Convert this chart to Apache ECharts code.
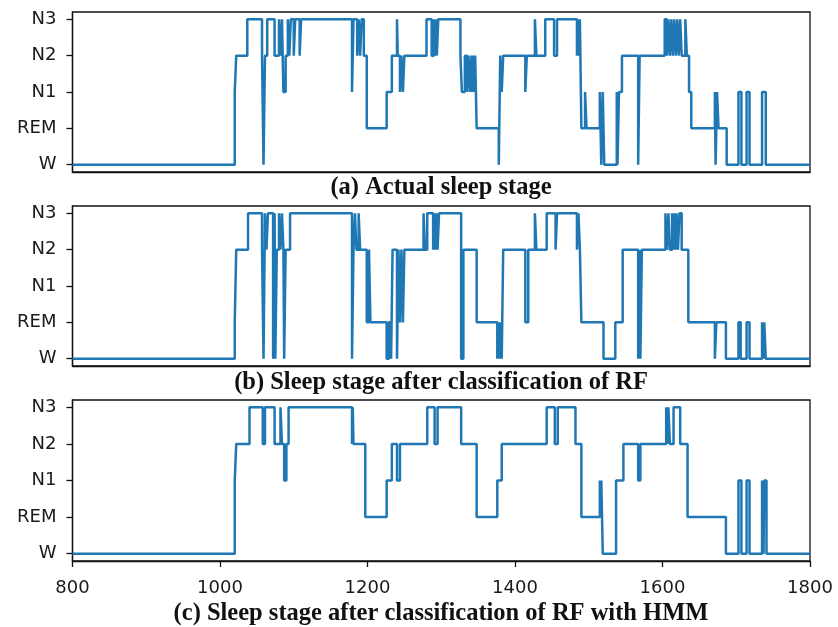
<!DOCTYPE html>
<html>
<head>
<meta charset="utf-8">
<script src="https://cdn.jsdelivr.net/npm/echarts@6/dist/echarts.min.js"></script>
<style>
html,body{margin:0;padding:0;background:#fff;}
#chart{width:838px;height:627px;}
</style>
</head>
<body>
<div id="chart"></div>
<script>
// Stage labels (y axis), index = stage value
var stageLabels = ['W', 'REM', 'N1', 'N2', 'N3'];
// x axis tick values
var xTicks = [800, 1000, 1200, 1400, 1600, 1800];
// Subplot captions
var captions = [
  '(a) Actual sleep stage',
  '(b) Sleep stage after classification of RF',
  '(c) Sleep stage after classification of RF with HMM'
];
// Change points [epoch, stage]; value holds until the next point
var actualStages = [
  [800,0],[1020,2],[1022,3],[1037,4],
  [1057,3],[1059,0],[1061,3],[1064,4],
  [1074,3],[1080,4],[1082,3],[1084,4],[1086,2],[1089,3],[1092,4],[1094,3],[1096,4],[1100,3],[1102,4],
  [1108,3],[1110,4],
  [1179,2],[1181,4],[1186,3],[1188,4],[1190,3],[1192,4],[1195,3],[1199,1],
  [1226,2],[1233,3],[1240,4],[1241,3],[1244,2],[1246,3],[1248,2],[1250,3],
  [1280,4],[1287,3],[1290,4],[1291,3],[1293,4],[1294,3],[1296,4],
  [1326,3],[1328,2],[1332,3],[1335,2],[1337,3],[1339,2],[1341,3],[1342,2],[1344,3],[1345,2],[1346,3],[1348,1],
  [1378,0],[1380,3],[1382,2],[1384,3],
  [1414,2],[1416,3],[1427,4],[1429,3],[1441,4],[1453,3],[1457,4],[1484,3],[1485,4],[1487,3],[1488,4],[1490,1],
  [1495,2],[1497,1],[1515,2],[1517,0],[1519,2],[1521,0],
  [1538,2],[1539,0],[1541,2],[1545,3],
  [1567,0],[1569,3],
  [1603,4],[1606,3],[1608,4],[1610,3],[1612,4],[1614,3],[1616,4],[1618,3],[1620,4],[1622,3],[1624,4],[1626,3],[1631,4],[1633,3],[1636,2],[1639,1],
  [1671,2],[1672,0],[1674,2],[1676,1],[1687,0],
  [1703,2],[1707,0],[1714,2],[1718,0],[1735,2],[1740,0],[1800,0]
];
var rfStages = [
  [800,0],[1020,1],[1022,3],[1038,4],
  [1057,3],[1059,0],[1061,4],[1063,3],[1065,4],[1072,0],[1074,4],[1075,0],[1077,3],[1080,4],[1082,3],[1084,4],[1086,3],[1087,0],[1089,3],[1095,4],
  [1179,0],[1181,3],[1183,4],[1185,3],[1188,4],[1190,3],[1199,1],[1202,3],[1204,1],
  [1226,0],[1229,1],[1232,0],[1234,3],[1240,0],[1242,3],[1244,1],[1246,3],[1248,1],[1250,3],
  [1276,4],[1278,3],[1281,4],[1289,3],[1291,4],[1292,3],[1294,4],[1295,3],[1297,4],[1327,0],[1330,3],[1348,1],
  [1376,0],[1378,1],[1379,0],[1381,1],[1382,0],[1384,3],[1414,1],[1418,3],[1427,4],[1429,3],[1443,4],[1455,3],[1457,4],[1484,3],[1486,4],[1488,3],[1490,1],
  [1520,0],[1536,1],[1546,3],[1567,0],[1569,3],[1570,0],[1572,3],
  [1604,4],[1606,3],[1608,4],[1610,3],[1613,4],[1615,3],[1616,4],[1618,3],[1619,4],[1621,3],[1623,4],[1626,3],[1635,1],
  [1671,0],[1673,1],[1686,0],[1703,1],[1706,0],[1714,1],[1718,0],[1735,1],[1737,0],[1738,1],[1740,0],[1800,0]
];
var hmmStages = [
  [800,0],[1020,2],[1022,3],[1040,4],[1058,3],[1061,4],[1074,3],[1082,4],[1084,3],[1087,2],[1090,3],[1093,4],
  [1179,3],[1180,4],[1181,3],[1197,1],[1226,2],[1233,3],[1240,2],[1244,3],
  [1281,4],[1291,3],[1295,4],[1327,3],[1348,1],[1376,2],[1382,3],[1443,4],[1454,3],[1458,4],[1482,3],[1490,1],
  [1515,2],[1516,1],[1517,2],[1519,0],[1537,2],[1547,3],[1567,2],[1570,3],
  [1605,4],[1607,3],[1608,4],[1610,3],[1615,4],[1624,3],[1634,1],[1686,0],
  [1703,2],[1707,0],[1714,2],[1718,0],[1735,2],[1737,0],[1738,2],[1741,0],[1800,0]
];

var chart = echarts.init(document.getElementById('chart'), null, {renderer: 'canvas'});
var seriesData = [actualStages, rfStages, hmmStages];
var gridTops = [12, 206, 400];
var gridHeights = [160, 160, 161];
var captionY = [188, 382.5, 614];
var labelFont = {fontFamily: 'DejaVu Sans', fontSize: 18, color: '#1a1a1a'};

var grids = [], xAxes = [], yAxes = [], series = [], graphics = [];
for (var i = 0; i < 3; i++) {
  grids.push({
    left: 72.5, right: 28, top: gridTops[i], height: gridHeights[i],
    show: true, borderColor: '#111', borderWidth: 1.3, backgroundColor: 'transparent'
  });
  var isLast = i === 2;
  xAxes.push({
    type: 'value', gridIndex: i, min: xTicks[0], max: xTicks[xTicks.length - 1], interval: 200,
    axisLine: {show: true, onZero: false, lineStyle: {color: '#111', width: 1.3}},
    axisTick: {show: isLast, length: 6, customValues: xTicks, lineStyle: {color: '#111', width: 1.3}},
    axisLabel: Object.assign({
      show: isLast, margin: 18, customValues: xTicks,
      formatter: function (v) { return String(v); }
    }, labelFont),
    splitLine: {show: false}
  });
  yAxes.push({
    type: 'value', gridIndex: i, min: -0.2, max: 4.2,
    axisLine: {show: true, lineStyle: {color: '#111', width: 1.3}},
    axisTick: {show: true, length: 6, customValues: [0, 1, 2, 3, 4], lineStyle: {color: '#111', width: 1.3}},
    axisLabel: Object.assign({
      show: true, margin: 16, customValues: [0, 1, 2, 3, 4],
      formatter: function (v) { return stageLabels[Math.round(v)] || ''; }
    }, labelFont),
    splitLine: {show: false}
  });
  series.push({
    type: 'line', xAxisIndex: i, yAxisIndex: i, step: 'end',
    data: seriesData[i], symbol: 'none', animation: false,
    lineStyle: {color: '#1f77b4', width: 2.5},
    clip: true
  });
  graphics.push({
    type: 'text', id: 'cap' + i, x: 441, y: captionY[i],
    style: {
      text: captions[i], textAlign: 'center', textVerticalAlign: 'middle',
      font: 'bold 24.5px "Liberation Serif", "Times New Roman", serif', fill: '#111'
    }
  });
}

chart.setOption({
  animation: false,
  grid: grids,
  xAxis: xAxes,
  yAxis: yAxes,
  series: series,
  graphic: {elements: graphics}
});
</script>
</body>
</html>
